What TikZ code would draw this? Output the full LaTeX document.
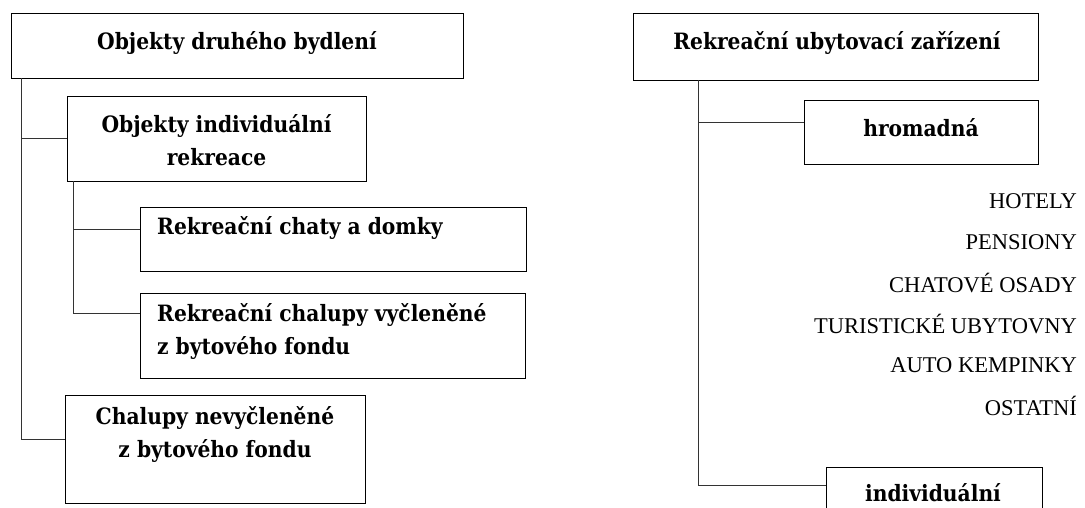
\documentclass[tikz,border=0pt]{standalone}
\usepackage{fontspec}
\setmainfont{DejaVu Serif Condensed}[BoldFont={* Bold}]
\newfontfamily\listfont{Liberation Serif}
\begin{document}
\begin{tikzpicture}[x=1pt,y=-1pt,
  box/.style={draw=black,line width=0.9pt,inner sep=0pt,outer sep=0pt,rectangle},
  txt/.style={inner sep=0pt,font=\bfseries\fontsize{22.5}{33}\selectfont},
  lst/.style={inner sep=0pt,anchor=east,font=\listfont\fontsize{22.5}{27}\selectfont},
  conn/.style={draw=black!80,line width=0.7pt}]
\clip (0,0) rectangle (1085,507);
\fill[white] (0,0) rectangle (1085,507);
% boxes
\node[box,minimum width=452pt,minimum height=65pt] (b1) at (237,45.5) {};
\node[box,minimum width=299pt,minimum height=85pt] (b2) at (216.5,138.5) {};
\node[box,minimum width=386pt,minimum height=64pt] (b3) at (333,239) {};
\node[box,minimum width=385pt,minimum height=85pt] (b4) at (332.5,335.5) {};
\node[box,minimum width=300pt,minimum height=108pt] (b5) at (215,449) {};
\node[box,minimum width=405pt,minimum height=67pt] (b6) at (835.5,46.5) {};
\node[box,minimum width=234pt,minimum height=64pt] (b7) at (921,132) {};
\node[box,minimum width=216pt,minimum height=63pt] (b8) at (934,498.5) {};
% texts
\node[txt] (t1) at (237,43) {Objekty druhého bydlení};
\node[txt,align=center] (t2) at (216.5,140) {Objekty individuální\\rekreace};
\node[txt,anchor=west] (t3) at (157,228) {Rekreační chaty a domky};
\node[txt,anchor=west,align=left] (t4) at (157,331.5) {Rekreační chalupy vyčleněné\\z bytového fondu};
\node[txt,align=center] (t5) at (215,434) {Chalupy nevyčleněné\\z bytového fondu};
\node[txt] (t6) at (837,43) {Rekreační ubytovací zařízení};
\node[txt] (t7) at (921,128) {hromadná};
\node[txt] (t8) at (933,493) {individuální};
\node[lst] (l1) at (1077,201) {HOTELY};
\node[lst] (l2) at (1077,242) {PENSIONY};
\node[lst] (l3) at (1077,283) {CHATOVÉ OSADY};
\node[lst] (l4) at (1077,324) {TURISTICKÉ UBYTOVNY};
\node[lst] (l5) at (1077,365) {AUTO KEMPINKY};
\node[lst] (l6) at (1077,406) {OSTATNÍ};
% connectors left
\draw[conn] ([xshift=10pt]b1.south west) |- ([yshift=10pt]b5.west);
\draw[conn] ([xshift=10pt]b1.south west |- b2.west) -- (b2.west);
\draw[conn] ([xshift=6pt]b2.south west) |- ([yshift=-20pt]b4.north west);
\draw[conn] ([xshift=6pt]b2.south west |- b3.north west) ++(0,-22pt) coordinate (c3) -- (c3 -| b3.west);
% connectors right
\draw[conn] ([xshift=65pt]b6.south west) |- ([yshift=-18pt]b8.north west);
\draw[conn] ([xshift=65pt]b6.south west |- b7.west) ++(0,10pt) coordinate (c7) -- (c7 -| b7.west);
\end{tikzpicture}
\end{document}
